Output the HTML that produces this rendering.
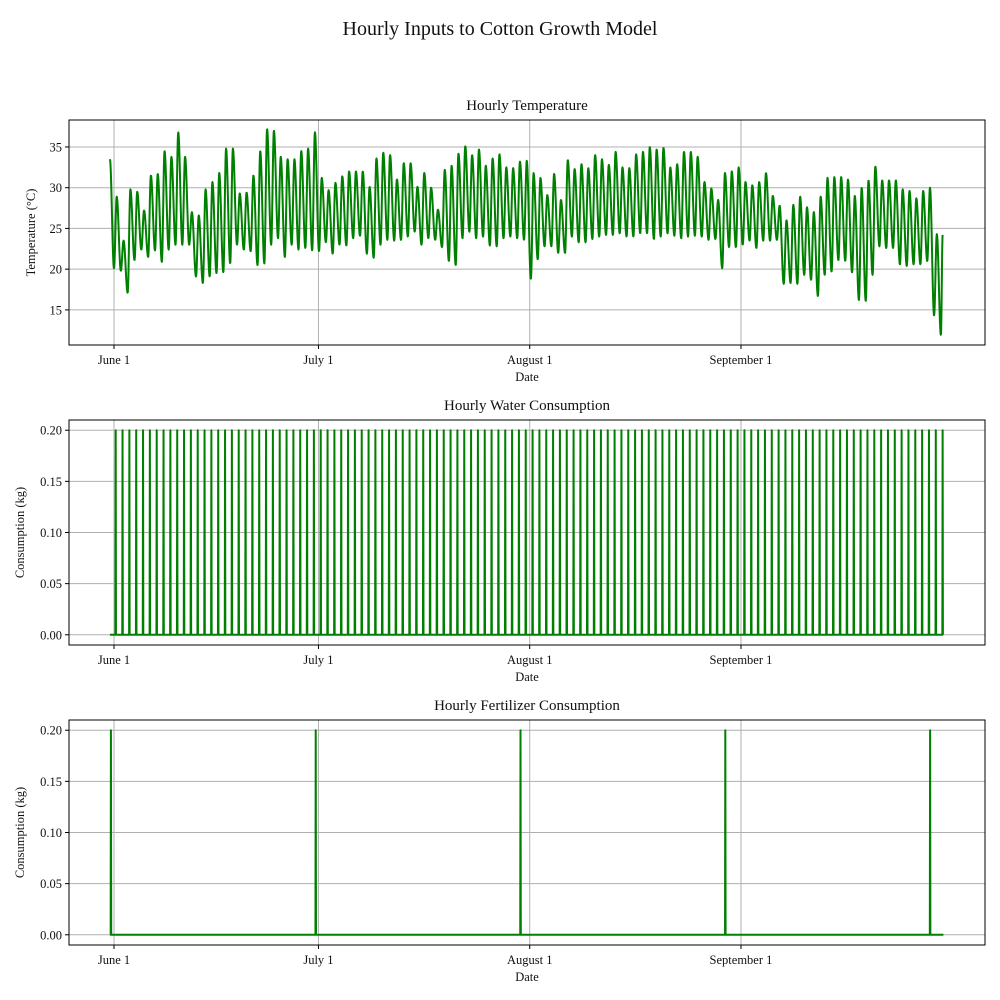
<!DOCTYPE html>
<html><head><meta charset="utf-8"><style>
html,body{margin:0;padding:0;background:#fff}
svg{display:block;font-family:"Liberation Serif","DejaVu Serif",serif}
</style></head><body>
<svg id="fig" width="1000" height="1000" viewBox="0 0 1000 1000" xmlns="http://www.w3.org/2000/svg">
<rect width="1000" height="1000" fill="#fff"/>
<text x="500" y="35" text-anchor="middle" font-size="20" fill="#111">Hourly Inputs to Cotton Growth Model</text>
</svg>
<script>
// ---- data ----
const monthTickLabels = ["June 1","July 1","August 1","September 1"];
const monthTickDays = [0,30,61,92];
const tempTicks = [15,20,25,30,35];
const consTicks = [0,0.05,0.10,0.15,0.20];
const tempStart = 33.5;
const tempEnd = 24.2;
const dailyMax = [28.9,23.5,29.8,29.5,27.2,31.5,31.7,34.5,33.8,36.8,33.8,27,26.6,29.8,30.7,31.8,34.8,34.8,29.3,29.4,31.5,34.5,37.2,37.0,33.8,33.5,33.5,34.5,34.8,36.8,31.2,29.7,30.6,31.4,32,32,32,30.1,33.6,34.3,
34,31,33,33,30.1,31.8,30,27.3,32.2,32.7,34.2,35.1,34,34.7,32.7,33.6,34.1,32.5,32.4,33.2,33.3,31.8,31.2,29.1,31.7,28.5,33.4,32.3,32.9,32.4,34,33.5,32.8,34.4,32.5,32.4,34.1,34.4,35,34.7,34.9,32.5,
32.9,34.4,34.4,33.8,30.7,29.9,28.5,31.8,32,32.5,30.7,30.3,30.7,31.8,29,27.8,26,27.9,28.9,27.6,27,28.9,31.2,31.3,31.3,31,29,30,30.9,32.6,30.9,30.9,30.9,29.8,29.6,28.7,29.6,30,24.3];
const dailyMin = [20.1,19.8,17.1,21.1,22.4,21.5,22.3,20.9,22.4,23,23,23,19.1,18.3,19.1,19.5,19.6,20.7,23,22.4,22.2,20.5,20.7,23,23.8,21.5,23,22.4,22.6,22.3,22.2,23.3,21.9,23,22.9,23.8,24.1,21.9,21.4,23,23.6,
23.5,23.6,24,24.6,23,23.8,23.6,22.7,21,20.5,23.8,24.6,23.8,24,22.9,22.8,23.8,24,23.8,23.6,18.8,21.2,22.8,22.8,22,22,24,23.3,23.3,23.7,24,24.2,24.2,24.4,24,24,24.4,24.4,23.7,24,24.4,
24.1,23.8,24,24.1,24,23.6,23.7,20.1,22.7,22.7,23,23.5,22.6,23.5,23.5,23.6,18.2,18.3,18.2,19.3,18.7,16.7,19.3,19.7,21.1,21,19.6,16.2,16.1,19.3,22.8,22.6,22.6,20.6,20.4,20.6,20.6,21,14.3,11.9];
const waterDaily = [0.2,0.2,0.2,0.2,0.2,0.2,0.2,0.2,0.2,0.2,0.2,0.2,0.2,0.2,0.2,0.2,0.2,0.2,0.2,0.2,0.2,0.2,0.2,0.2,0.2,0.2,0.2,0.2,0.2,0.2,0.2,0.2,0.2,0.2,0.2,0.2,0.2,0.2,0.2,0.2,0.2,0.2,0.2,0.2,0.2,0.2,0.2,0.2,0.2,0.2,0.2,0.2,0.2,0.2,0.2,0.2,0.2,0.2,0.2,0.2,0.2,0.2,0.2,0.2,0.2,0.2,0.2,0.2,0.2,0.2,0.2,0.2,0.2,0.2,0.2,0.2,0.2,0.2,0.2,0.2,0.2,0.2,0.2,0.2,0.2,0.2,0.2,0.2,0.2,0.2,0.2,0.2,0.2,0.2,0.2,0.2,0.2,0.2,0.2,0.2,0.2,0.2,0.2,0.2,0.2,0.2,0.2,0.2,0.2,0.2,0.2,0.2,0.2,0.2,0.2,0.2,0.2,0.2,0.2,0.2,0.2,0.2];
const fertDays = [-0.45,29.6,59.65,89.7,119.75];
const fertAmounts = [0.2,0.2,0.2,0.2,0.2];
const dataStartDay = -0.6;
const dataEndDay = 121.7;
const dayStep = 1.0028;

// ---- drawing ----
const NS="http://www.w3.org/2000/svg";
const svg=document.getElementById('fig');
function el(tag,attrs,parent){const e=document.createElementNS(NS,tag);for(const k in attrs)e.setAttribute(k,attrs[k]);(parent||svg).appendChild(e);return e;}
const L=69,R=985;
const xScale=d=>114+d*6.815;
const panels=[
 {top:120,bot:345,ymin:10.69,ymax:38.31,ticks:tempTicks,fmt:v=>String(v),title:"Hourly Temperature",ylabel:"Temperature (°C)",ylx:35,name:"temperature"},
 {top:420,bot:645,ymin:-0.01,ymax:0.21,ticks:consTicks,fmt:v=>v.toFixed(2),title:"Hourly Water Consumption",ylabel:"Consumption (kg)",ylx:24,name:"water"},
 {top:720,bot:945,ymin:-0.01,ymax:0.21,ticks:consTicks,fmt:v=>v.toFixed(2),title:"Hourly Fertilizer Consumption",ylabel:"Consumption (kg)",ylx:24,name:"fertilizer"}
];
panels.forEach(p=>{p.y=v=>p.bot-(v-p.ymin)/(p.ymax-p.ymin)*(p.bot-p.top);});

const ext=[[dataStartDay,tempStart]];
for(let i=0;i<dailyMin.length;i++){ext.push([i*dayStep,dailyMin[i]]);if(i<dailyMax.length)ext.push([i*dayStep+0.4,dailyMax[i]]);}
const tempEndDay=(dailyMin.length-1)*dayStep+0.25;
ext.push([tempEndDay,tempEnd]);
function interp(t){
  for(let k=0;k<ext.length-1;k++){const a=ext[k],b=ext[k+1];
    if(t>=a[0]&&t<=b[0]){const f=(t-a[0])/(b[0]-a[0]);const c=(1-Math.cos(Math.PI*f))/2;return a[1]+(b[1]-a[1])*c;}}
  return ext[ext.length-1][1];
}

panels.forEach((p,pi)=>{
  const g=el('g',{});
  
  
  monthTickDays.forEach((d,i)=>{const l=el('line',{x1:xScale(d),x2:xScale(d),y1:p.top,y2:p.bot,stroke:'#b0b0b0','stroke-width':1},g);
    });
  p.ticks.forEach(v=>{const l=el('line',{x1:L,x2:R,y1:p.y(v),y2:p.y(v),stroke:'#b0b0b0','stroke-width':1},g);
    });
  const pts=[];
  if(pi===0){
    for(let t=dataStartDay;t<=tempEndDay+1e-9;t+=1/24){pts.push(xScale(t).toFixed(2)+','+p.y(interp(t)).toFixed(2));}
    pts.push(xScale(tempEndDay).toFixed(2)+','+p.y(tempEnd).toFixed(2));
  } else if(pi===1){
    pts.push(xScale(dataStartDay)+','+p.y(0));
    waterDaily.forEach((w,i)=>{const d=0.25+i*dayStep;
      pts.push(xScale(d-0.04)+','+p.y(0));pts.push(xScale(d)+','+p.y(w));pts.push(xScale(d+0.04)+','+p.y(0));});
    pts.push(xScale(0.25+(waterDaily.length-1)*dayStep+0.04)+','+p.y(0));
  } else {
    pts.push(xScale(dataStartDay)+','+p.y(0));
    fertDays.forEach((d,i)=>{pts.push(xScale(d-0.04)+','+p.y(0));pts.push(xScale(d)+','+p.y(fertAmounts[i]));pts.push(xScale(d+0.04)+','+p.y(0));});
    pts.push(xScale(dataEndDay)+','+p.y(0));
  }
  const line=el('polyline',{points:pts.join(' '),fill:'none',stroke:'#008000','stroke-width':2,'stroke-linejoin':'round'},g);
  
  
  const fr=el('rect',{x:L,y:p.top,width:R-L,height:p.bot-p.top,fill:'none',stroke:'#000','stroke-width':1},g);
  
  monthTickDays.forEach((d,i)=>{const x=xScale(d);
    el('line',{x1:x,x2:x,y1:p.bot,y2:p.bot+4,stroke:'#000'},g);
    const t=el('text',{x:x,y:p.bot+19,'text-anchor':'middle','font-size':12.5,fill:'#111'},g);t.textContent=monthTickLabels[i];
    });
  p.ticks.forEach(v=>{const y=p.y(v);
    el('line',{x1:L-4,x2:L,y1:y,y2:y,stroke:'#000'},g);
    const t=el('text',{x:L-7,y:y+4.5,'text-anchor':'end','font-size':12.5,fill:'#111'},g);t.textContent=p.fmt(v);
    });
  const tt=el('text',{x:(L+R)/2,y:p.top-10,'text-anchor':'middle','font-size':15,fill:'#111'},g);tt.textContent=p.title;
  
  const xl=el('text',{x:(L+R)/2,y:p.bot+36,'text-anchor':'middle','font-size':12.5,fill:'#111'},g);xl.textContent='Date';
  
  const cy=(p.top+p.bot)/2;
  const yl=el('text',{x:p.ylx,y:cy,'text-anchor':'middle','font-size':12.5,fill:'#111',transform:`rotate(-90 ${p.ylx} ${cy})`},g);yl.textContent=p.ylabel;
  
});
</script>
</body></html>
